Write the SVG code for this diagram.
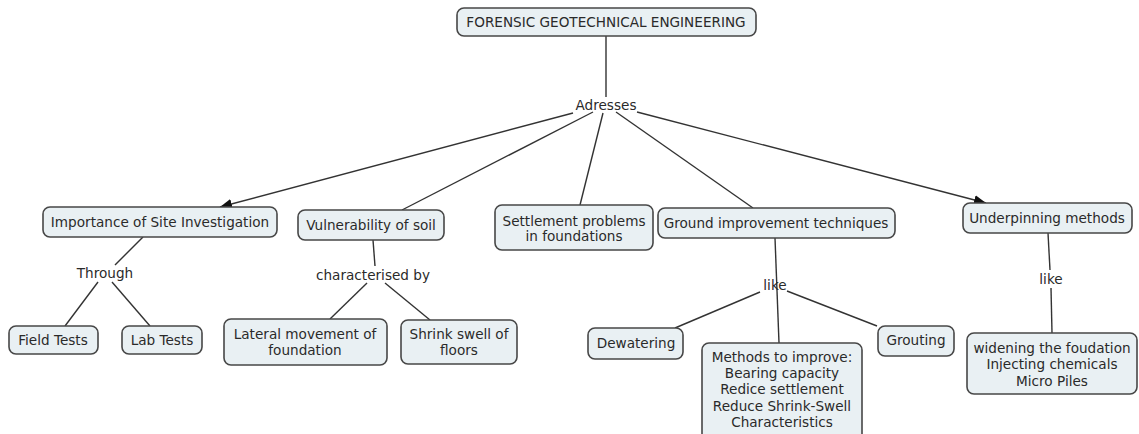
<svg xmlns="http://www.w3.org/2000/svg" width="1139" height="434" viewBox="0 0 1139 434">
<defs>
<marker id="arr" viewBox="0 0 12 10" refX="12" refY="5" markerWidth="12" markerHeight="10" markerUnits="userSpaceOnUse" orient="auto">
<path d="M0,0 L12,5 L0,10 z" fill="#111"/>
</marker>
<style>
.n rect{fill:#e9f0f3;stroke:#474747;stroke-width:1.6}
text{font-family:"DejaVu Sans",Verdana,sans-serif;font-size:13.6px;fill:#2a2a2a;text-anchor:middle}
.c line{stroke:#333;stroke-width:1.4}
</style>
</defs>
<rect width="1139" height="434" fill="#fff"/>
<g class="c">
<line x1="606" y1="36" x2="606" y2="97"/>
<line x1="573" y1="113" x2="220" y2="207" marker-end="url(#arr)"/>
<line x1="593" y1="112" x2="402" y2="210"/>
<line x1="603" y1="113" x2="580" y2="205"/>
<line x1="616" y1="112" x2="753" y2="208"/>
<line x1="637" y1="112" x2="986" y2="203" marker-end="url(#arr)"/>
<line x1="143" y1="237" x2="115" y2="265"/>
<line x1="98" y1="282" x2="65" y2="326"/>
<line x1="112" y1="282" x2="150" y2="326"/>
<line x1="373" y1="240" x2="375" y2="266"/>
<line x1="367" y1="283" x2="330" y2="319"/>
<line x1="385" y1="283" x2="430" y2="320"/>
<line x1="775" y1="238" x2="779" y2="343"/>
<line x1="760" y1="292" x2="675" y2="328"/>
<line x1="787" y1="291" x2="877" y2="326"/>
<line x1="1048" y1="233" x2="1050" y2="270"/>
<line x1="1051" y1="288" x2="1052" y2="333"/>
</g>
<g id="forensic" class="n"><rect x="457" y="8" width="299" height="28" rx="7"/><text x="606" y="27">FORENSIC GEOTECHNICAL ENGINEERING</text></g>
<g id="adresses"><text x="606" y="110">Adresses</text></g>
<g id="importance" class="n"><rect x="43" y="207" width="234" height="30" rx="7"/><text x="160" y="227">Importance of Site Investigation</text></g>
<g id="vulnerability" class="n"><rect x="298" y="210" width="146" height="30" rx="7"/><text x="371" y="230">Vulnerability of soil</text></g>
<g id="settlement" class="n"><rect x="495" y="205" width="158" height="45" rx="7"/><text x="574" y="226">Settlement problems</text><text x="574" y="241">in foundations</text></g>
<g id="ground" class="n"><rect x="658" y="208" width="237" height="30" rx="7"/><text x="776" y="228">Ground improvement techniques</text></g>
<g id="underpinning" class="n"><rect x="963" y="203" width="169" height="30" rx="7"/><text x="1047" y="223">Underpinning methods</text></g>
<g id="through"><text x="105" y="278">Through</text></g>
<g id="characterised"><text x="373" y="280">characterised by</text></g>
<g id="field" class="n"><rect x="9" y="326" width="89" height="28" rx="7"/><text x="53" y="345">Field Tests</text></g>
<g id="lab" class="n"><rect x="122" y="326" width="80" height="28" rx="7"/><text x="162" y="345">Lab Tests</text></g>
<g id="lateral" class="n"><rect x="224" y="319" width="163" height="46" rx="7"/><text x="305" y="339">Lateral movement of</text><text x="305" y="355">foundation</text></g>
<g id="shrink" class="n"><rect x="401" y="320" width="116" height="44" rx="7"/><text x="459" y="339">Shrink swell of</text><text x="459" y="355">floors</text></g>
<g id="like1"><text x="775" y="290">like</text></g>
<g id="dewatering" class="n"><rect x="588" y="328" width="95" height="31" rx="7"/><text x="636" y="348">Dewatering</text></g>
<g id="methods" class="n"><rect x="702" y="343" width="160" height="100" rx="7"/><text x="782" y="362">Methods to improve:</text><text x="782" y="378">Bearing capacity</text><text x="782" y="394">Redice settlement</text><text x="782" y="411">Reduce Shrink-Swell</text><text x="782" y="427">Characteristics</text></g>
<g id="grouting" class="n"><rect x="878" y="326" width="76" height="30" rx="7"/><text x="916" y="345">Grouting</text></g>
<g id="like2"><text x="1051" y="284">like</text></g>
<g id="widening" class="n"><rect x="967" y="333" width="170" height="61" rx="7"/><text x="1052" y="353">widening the foudation</text><text x="1052" y="369">Injecting chemicals</text><text x="1052" y="386">Micro Piles</text></g>
</svg>
